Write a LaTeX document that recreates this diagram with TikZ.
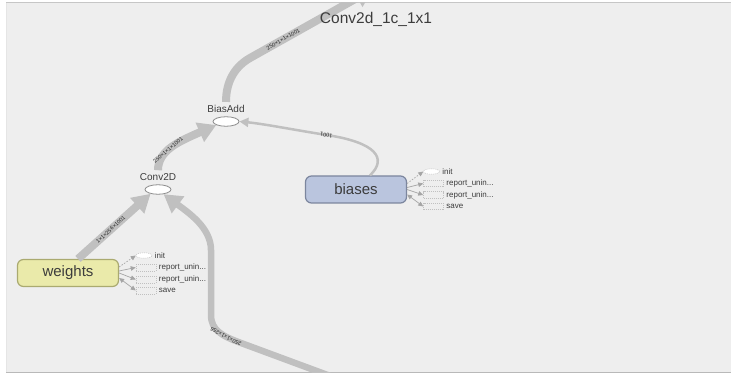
\documentclass[tikz,border=0pt]{standalone}
\usepackage{fontspec}
\setmainfont{Liberation Sans}
\usepackage{tikz}
\usetikzlibrary{shapes, arrows.meta}
\tikzset{>=latex}
\definecolor{mygray1}{RGB}{238, 238, 238}
\definecolor{edgegray}{RGB}{192, 192, 192}
\definecolor{stubgray}{RGB}{165, 165, 165}
\definecolor{wfill}{RGB}{234, 234, 170}
\definecolor{wline}{RGB}{170, 170, 112}
\definecolor{bfill}{RGB}{186, 197, 222}
\definecolor{bline}{RGB}{124, 134, 158}
\definecolor{txtgray}{RGB}{60, 60, 60}

\tikzset{
  opnode/.style = {ellipse, draw = gray!90, fill = white, line width = 0.8pt, minimum width = 26pt, minimum height = 9.5pt, inner sep = 0pt},
  oplabel/.style = {font = \fontsize{10}{12}\selectfont, text = txtgray},
  varnode/.style = {rectangle, rounded corners = 6pt, line width = 1.2pt, minimum width = 101pt, minimum height = 27pt, inner sep = 0pt, font = \fontsize{15}{18}\selectfont, text = txtgray},
  stubbox/.style = {rectangle, draw = stubgray!70, dash pattern = on 1pt off 1pt, line width = 0.5pt, minimum width = 20pt, minimum height = 6.5pt, inner sep = 0pt},
  stubinit/.style = {ellipse, draw = stubgray!70, fill = white, dash pattern = on 1pt off 1pt, line width = 0.5pt, minimum width = 16pt, minimum height = 5.5pt, inner sep = 0pt},
  stublabel/.style = {font = \fontsize{8}{9}\selectfont, text = txtgray, inner sep = 2pt, label distance = 0.5pt},
  bigtip/.tip = {Triangle[length = 18pt, width = 20pt]},
  thintip/.tip = {Triangle[length = 9pt, width = 9pt]},
  stubtip/.tip = {Triangle[length = 5pt, width = 4.5pt]},
  bigedge/.style = {draw = edgegray, line width = 8pt, -bigtip},
  midedge/.style = {draw = edgegray, line width = 6.5pt, -bigtip},
  thinedge/.style = {draw = edgegray, line width = 2.5pt, -thintip},
  stubedge/.style = {draw = stubgray, line width = 0.7pt, -stubtip},
  edgelabel/.style = {sloped, font = \fontsize{5.5}{6}\selectfont, text = gray!30!black, inner sep = 0.5pt}
}

\begin{document}
\begin{tikzpicture}[x = 1pt, y = -1pt]
\useasboundingbox (0,0) rectangle (731,374);
\fill[mygray1] (6,3) rectangle (731,372);
\draw[line width = 1pt, gray!45] (6,3) -- (731,3);
\draw[line width = 1pt, gray!55] (6,372) -- (731,372);
\draw[line width = 0.4pt, gray!20] (6,3) -- (6,372);

% ops and variables
\node[opnode, label = {[oplabel, name = bias-lbl]above:BiasAdd}] (bias) at (226,121.5) {};
\node[opnode, label = {[oplabel, name = conv-lbl]above:Conv2D}] (conv) at (158,189.5) {};
\node[varnode, fill = wfill, draw = wline] (w) at (68,273) {weights};
\node[varnode, fill = bfill, draw = bline] (b) at (356,189.5) {biases};

% small nodes of weights
\node[stubinit, label = {[stublabel]right:init}] (winit) at (144,255.5) {};
\node[stubbox, label = {[stublabel]right:report\_unin...}] (wrep1) at (146,267.5) {};
\node[stubbox, label = {[stublabel]right:report\_unin...}] (wrep2) at (146,279.5) {};
\node[stubbox, label = {[stublabel]right:save}] (wsave) at (146,290.5) {};

% small nodes of biases
\node[stubinit, label = {[stublabel]right:init}] (binit) at (431.5,171.5) {};
\node[stubbox, label = {[stublabel]right:report\_unin...}] (brep1) at (433.5,183.5) {};
\node[stubbox, label = {[stublabel]right:report\_unin...}] (brep2) at (433.5,195) {};
\node[stubbox, label = {[stublabel]right:save}] (bsave) at (433.5,206.5) {};

\coordinate (topout) at (373,-11);
\coordinate (botin) at (341,380);

\begin{scope}
\clip (6,3) rectangle (731,372);
\draw[bigedge] (conv-lbl.north) ..controls (158,150) and (180,141).. (bias.200) node[edgelabel, pos = 0.4] {250×1×1×1001};
\draw[bigedge, line join = round] (bias-lbl.north) ..controls (226,80) and (236,66).. (250,58) -- (topout) node[edgelabel, pos = 0.27] {250×1×1×1001};
\draw[bigedge] ([xshift = 10pt]w.north) -- (conv.210) node[edgelabel, pos = 0.45] {1×1×256×1001};
\draw[midedge, line join = round] (botin) -- (240,342.6) ..controls (222,336) and (211,330).. (211,315) node[edgelabel, pos = 0.3, allow upside down] {250×1×1×256} -- (211,250) ..controls (211,228) and (189,213).. (conv.-40);
\draw[thinedge] ([xshift = 14pt]b.north) ..controls (388,158) and (375,143).. (330,135.5) ..controls (300,131) and (265,124).. (bias.east) node[edgelabel, pos = 0.04, allow upside down] {1001};
\end{scope}

\node[font = \fontsize{15.5}{18}\selectfont, text = txtgray] (title) at (376,19) {Conv2d\_1c\_1x1};

% edges to the small nodes
\draw[stubedge, dash pattern = on 1.5pt off 1.5pt] ([yshift = 6pt]w.east) -- (winit.west);
\draw[stubedge] ([yshift = 2pt]w.east) -- (wrep1.west);
\draw[stubedge] (w.east) -- (wrep2.west);
\draw[stubedge, stubtip-stubtip] ([yshift = -5pt]w.east) -- (wsave.west);

\draw[stubedge, dash pattern = on 1.5pt off 1.5pt] ([yshift = 6pt]b.east) -- (binit.west);
\draw[stubedge] ([yshift = 2pt]b.east) -- (brep1.west);
\draw[stubedge] (b.east) -- (brep2.west);
\draw[stubedge, stubtip-stubtip] ([yshift = -5pt]b.east) -- (bsave.west);

\end{tikzpicture}
\end{document}
